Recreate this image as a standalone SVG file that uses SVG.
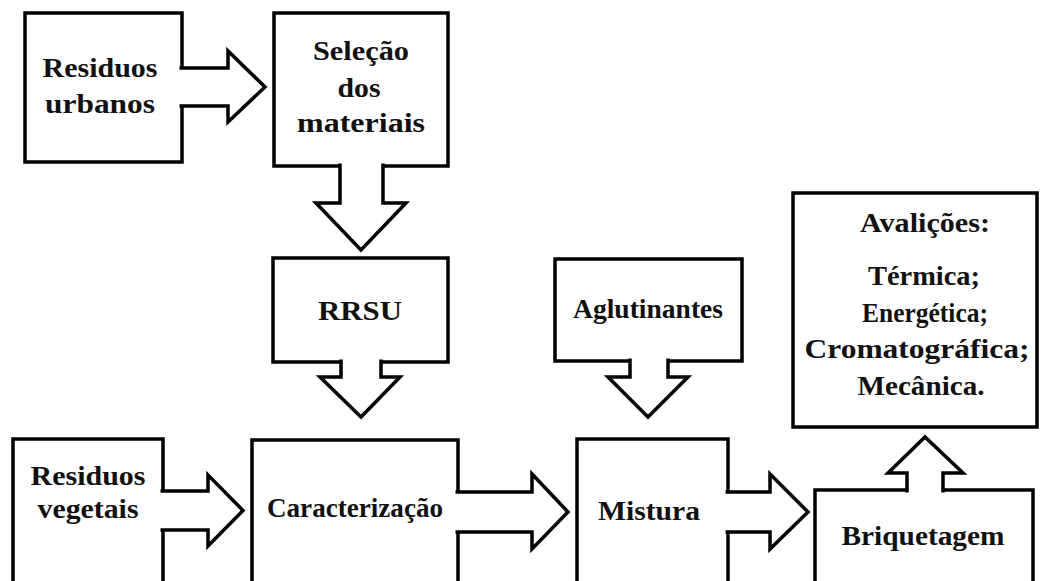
<svg xmlns="http://www.w3.org/2000/svg" width="1041" height="581" viewBox="0 0 1041 581">
<style>
.box{fill:#fff;stroke:#000;stroke-width:3.5}
.arr{fill:#fff;stroke:#000;stroke-width:3.5;stroke-linejoin:miter}
.t{font-family:'Liberation Serif','Times New Roman',serif;font-weight:bold;font-size:28px;fill:#111;text-anchor:middle}
</style>
<rect width="1041" height="581" fill="#fff"/>
<g id="residuos-urbanos">
<rect class="box" x="25" y="13" width="157" height="149"/>
<text class="t" x="100" y="77" textLength="115" lengthAdjust="spacingAndGlyphs">Residuos</text>
<text class="t" x="100" y="113" textLength="110" lengthAdjust="spacingAndGlyphs">urbanos</text>
</g>
<g id="selecao">
<rect class="box" x="274" y="13" width="174" height="153"/>
<text class="t" x="361" y="60" textLength="96" lengthAdjust="spacingAndGlyphs">Seleção</text>
<text class="t" x="359" y="97" textLength="43" lengthAdjust="spacingAndGlyphs">dos</text>
<text class="t" x="361" y="132" textLength="128" lengthAdjust="spacingAndGlyphs">materiais</text>
</g>
<g id="rrsu">
<rect class="box" x="273" y="258" width="175" height="104"/>
<text class="t" x="360" y="320" textLength="84" lengthAdjust="spacingAndGlyphs">RRSU</text>
</g>
<g id="aglutinantes">
<rect class="box" x="555" y="259" width="187" height="102"/>
<text class="t" x="648" y="318" textLength="150" lengthAdjust="spacingAndGlyphs">Aglutinantes</text>
</g>
<g id="avaliacoes">
<rect class="box" x="793" y="193" width="244" height="234"/>
<text class="t" x="925" y="232" textLength="130" lengthAdjust="spacingAndGlyphs">Avalições:</text>
<text class="t" x="924" y="285" textLength="112" lengthAdjust="spacingAndGlyphs">Térmica;</text>
<text class="t" x="925" y="322" textLength="126" lengthAdjust="spacingAndGlyphs">Energética;</text>
<text class="t" x="917" y="358" textLength="225" lengthAdjust="spacingAndGlyphs">Cromatográfica;</text>
<text class="t" x="921" y="395" textLength="127" lengthAdjust="spacingAndGlyphs">Mecânica.</text>
</g>
<g id="residuos-vegetais">
<rect class="box" x="13" y="439" width="150" height="170"/>
<text class="t" x="88" y="485" textLength="115" lengthAdjust="spacingAndGlyphs">Residuos</text>
<text class="t" x="88" y="518" textLength="101" lengthAdjust="spacingAndGlyphs">vegetais</text>
</g>
<g id="caracterizacao">
<rect class="box" x="252" y="440" width="206" height="170"/>
<text class="t" x="355" y="517" textLength="176" lengthAdjust="spacingAndGlyphs">Caracterização</text>
</g>
<g id="mistura">
<rect class="box" x="577" y="439" width="151" height="170"/>
<text class="t" x="649" y="520" textLength="102" lengthAdjust="spacingAndGlyphs">Mistura</text>
</g>
<g id="briquetagem">
<rect class="box" x="815" y="490" width="218" height="120"/>
<text class="t" x="923" y="545" textLength="163" lengthAdjust="spacingAndGlyphs">Briquetagem</text>
</g>
<g id="connectors">
<path class="arr" d="M179.5,68 H228 V51 L265,87 L228,122 V106 H179.5"/>
<path class="arr" d="M340,163.5 V203 H316 L361,250 L406,203 H383 V163.5"/>
<path class="arr" d="M341,359.5 V377 H320 L361,417 L400,377 H381 V359.5"/>
<path class="arr" d="M630,358.5 V377 H608 L648,417 L688,377 H668 V358.5"/>
<path class="arr" d="M160.5,491 H208 V475 L243,510.5 L208,546 V530 H160.5"/>
<path class="arr" d="M455.5,492 H532 V474 L568,512 L532,549 V532 H455.5"/>
<path class="arr" d="M725.5,492 H770 V474 L808,512 L770,549 V532 H725.5"/>
<path class="arr" d="M907,492.5 V473 H888 L925,437 L963,473 H943 V492.5"/>
</g>
</svg>
